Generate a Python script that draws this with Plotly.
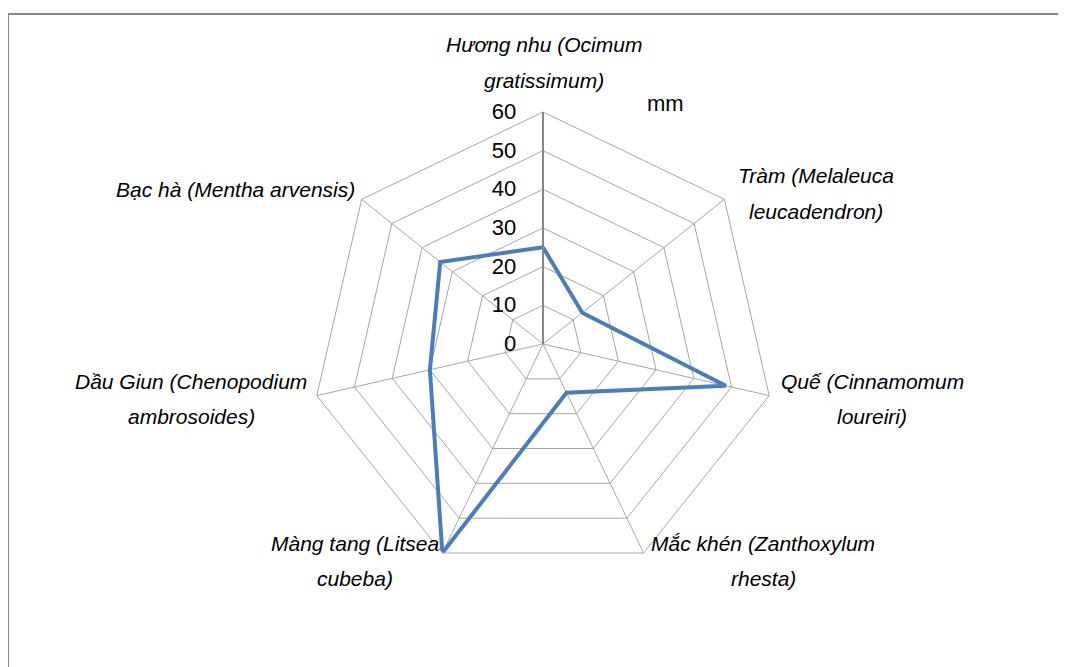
import plotly.graph_objects as go

categories = [
    "Hương nhu (Ocimum gratissimum)",
    "Tràm (Melaleuca leucadendron)",
    "Quế (Cinnamomum loureiri)",
    "Mắc khén (Zanthoxylum rhesta)",
    "Màng tang (Litsea cubeba)",
    "Dầu Giun (Chenopodium ambrosoides)",
    "Bạc hà (Mentha arvensis)",
]
values = [25, 13, 48.5, 14, 60, 30, 34]
radial_ticks = [0, 10, 20, 30, 40, 50, 60]
unit_label = "mm"

# label lines (as shown on the chart) and their pixel positions
label_lines = [
    ["Hương nhu (Ocimum", "gratissimum)"],
    ["Tràm (Melaleuca", "leucadendron)"],
    ["Quế (Cinnamomum", "loureiri)"],
    ["Mắc khén (Zanthoxylum", "rhesta)"],
    ["Màng tang (Litsea", "cubeba)"],
    ["Dầu Giun (Chenopodium", "ambrosoides)"],
    ["Bạc hà (Mentha arvensis)"],
]
label_pos = [
    (544, 45), (816, 176), (872, 381), (763, 543),
    (355, 543), (191, 381), (235, 190),
]
line_gap = 35

W, H = 1066, 667
OFF = 8  # page offset of the figure in the screenshot
cx, cy, R = 543 - OFF, 344 - OFF, 232


def px(x):
    return (x - OFF) / W


def py(y):
    return 1 - (y - OFF) / H


fig = go.Figure()
fig.add_trace(go.Scatterpolar(
    r=values + [values[0]],
    theta=categories + [categories[0]],
    mode="lines",
    line=dict(color="#4A7EBB", width=4),
    showlegend=False,
    hoverinfo="skip",
))

annotations = []
for lines, (x, y) in zip(label_lines, label_pos):
    for k, t in enumerate(lines):
        annotations.append(dict(
            x=px(x), y=py(y + k * line_gap), xref="paper", yref="paper",
            text=t, showarrow=False, xanchor="center", yanchor="middle",
            font=dict(family="Liberation Sans, Arial", size=21, color="black", style="italic"),
        ))
annotations.append(dict(
    x=px(645), y=py(103), xref="paper", yref="paper", text=unit_label,
    showarrow=False, xanchor="left", yanchor="middle",
    font=dict(family="Liberation Sans, Arial", size=22, color="black"),
))

fig.update_layout(
    width=W, height=H, autosize=False,
    margin=dict(l=0, r=0, t=0, b=0),
    paper_bgcolor="white",
    polar=dict(
        domain=dict(x=[(cx - R) / W, (cx + R) / W], y=[1 - (cy + R) / H, 1 - (cy - R) / H]),
        bgcolor="white",
        gridshape="linear",
        angularaxis=dict(
            rotation=90, direction="clockwise",
            showticklabels=False, ticks="",
            showline=True, linecolor="#A6A6A6", linewidth=1,
            showgrid=True, gridcolor="#A6A6A6", gridwidth=1,
        ),
        radialaxis=dict(
            angle=90, tickangle=90,
            range=[0, 60], tickvals=radial_ticks,
            ticks="outside", ticklen=18, tickcolor="rgba(0,0,0,0)",
            showline=True, linecolor="#868686", linewidth=2,
            showgrid=True, gridcolor="#A6A6A6", gridwidth=1,
            tickfont=dict(family="Liberation Sans, Arial", size=22, color="black"),
            side="counterclockwise",
        ),
    ),
    annotations=annotations,
    shapes=[dict(
        type="rect", xref="paper", yref="paper",
        x0=0, x1=1.01, y0=-0.01, y1=1 - (14 - OFF) / H,
        line=dict(color="#888888", width=2), fillcolor="rgba(0,0,0,0)",
    )],
)

fig.write_html("out.html")
